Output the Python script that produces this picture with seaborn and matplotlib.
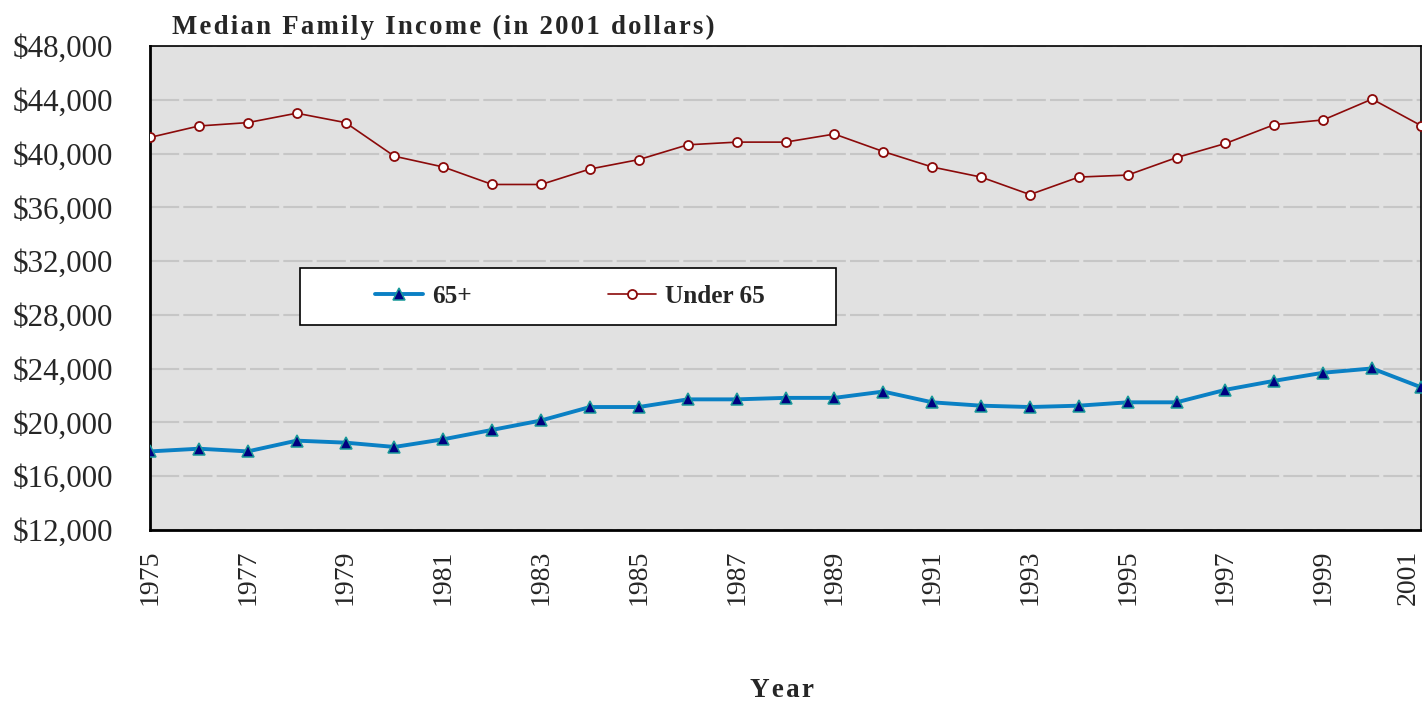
import matplotlib
matplotlib.use("Agg")
import matplotlib.pyplot as plt
import seaborn as sns
import pandas as pd
from matplotlib.patches import Rectangle
from matplotlib.ticker import MultipleLocator, FuncFormatter

years = list(range(1975, 2002))
under_65 = [41200, 42050, 42300, 43000, 42300, 39800, 39000, 37700, 37700, 38850,
            39550, 40650, 40850, 40850, 41450, 40150, 39000, 38250, 36950, 38250,
            38400, 39700, 40750, 42150, 42500, 44050, 42080]
over_65 = [17850, 18050, 17850, 18650, 18500, 18180, 18750, 19450, 20150, 21150,
           21150, 21720, 21720, 21830, 21830, 22300, 21500, 21250, 21150, 21250,
           21500, 21500, 22430, 23100, 23700, 24020, 22620]

df = pd.DataFrame({"Year": years, "65+": over_65, "Under 65": under_65})


def spaced(s):
    # the original uses wide letter spacing; fake it with hair spaces
    return "\u200a".join(s)


sns.set_style("white")
plt.rcParams["font.family"] = ["Liberation Serif", "DejaVu Serif"]

fig = plt.figure(figsize=(14.22, 7.03), dpi=100)
ax = fig.add_axes([0.1055, 0.246, 0.8938, 0.6886])
ax.set_facecolor("#E1E1E1")

sns.lineplot(data=df, x="Year", y="65+", ax=ax, color="#0A80C4", linewidth=2.8,
             marker="^", markersize=8, markerfacecolor="#000080",
             markeredgecolor="#1A9A9A", markeredgewidth=1.1, label="65+", zorder=3)
sns.lineplot(data=df, x="Year", y="Under 65", ax=ax, color="#8B0A0A", linewidth=1.2,
             marker="o", markersize=6.5, markerfacecolor="white",
             markeredgecolor="#8B0A0A", markeredgewidth=1.3, label="Under 65", zorder=3)

ax.set_xlim(1975, 2001)
ax.set_ylim(12000, 48000)
ax.yaxis.set_major_locator(MultipleLocator(4000))
ax.yaxis.set_minor_locator(MultipleLocator(2000))
ax.yaxis.set_major_formatter(FuncFormatter(lambda v, p: f"${int(v):,}"))
ax.set_xticks(years, minor=True)
ax.set_xticks(years[::2])
ax.set_xticklabels([str(y) for y in years[::2]], rotation=90)
ax.get_xticklabels()[-1].set_horizontalalignment("right")

ax.grid(axis="y", which="major", color="#C6C6C6", linewidth=1.5, linestyle=(0, (14, 2)))
ax.set_axisbelow(True)

ax.tick_params(axis="both", which="both", direction="in", color="black")
ax.tick_params(axis="y", which="major", length=10, width=1.5, labelsize=22.3, pad=26.5)
ax.tick_params(axis="y", which="minor", length=7, width=1.2)
ax.tick_params(axis="x", which="both", length=9, width=1.5, labelsize=20, pad=14)

for side in ["left", "bottom"]:
    ax.spines[side].set_linewidth(2)
    ax.spines[side].set_color("black")
for side in ["top", "right"]:
    ax.spines[side].set_linewidth(1.2)
    ax.spines[side].set_color("black")

ax.set_ylabel("")
ax.set_xlabel(spaced("Year"), fontsize=19.5, fontweight="bold", labelpad=51)
ax.xaxis.set_label_coords(0.497, -0.305)
ax.set_title(spaced("Median Family Income (in 2001 dollars)"), fontsize=19.3,
             fontweight="bold", loc="left", x=0.017, y=1.008)

# legend box drawn separately so the padding can be uneven like the original
ax.add_patch(Rectangle((0.118, 0.4236), 0.4217, 0.1178, transform=ax.transAxes,
                       facecolor="white", edgecolor="black", linewidth=1.2, zorder=4))
leg = ax.legend(loc="center left", bbox_to_anchor=(0.177, 0.4824), ncol=2,
                frameon=False, borderpad=0, borderaxespad=0,
                columnspacing=5.4, handlelength=1.9, handletextpad=0.35,
                prop={"size": 18.2, "weight": "bold"})
leg.set_zorder(5)

fig.savefig("out.png", dpi=100)
